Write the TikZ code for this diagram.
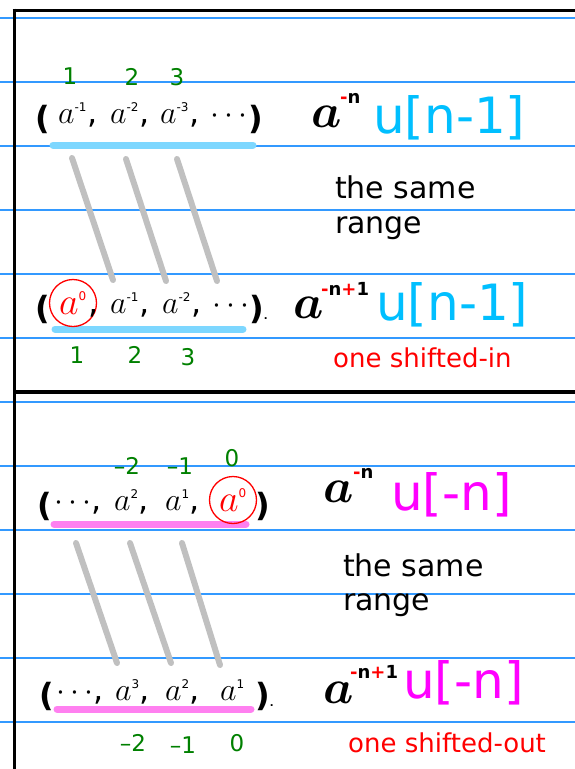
\RequirePackage{fix-cm}
\documentclass[tikz,border=0pt]{standalone}
\usepackage{fontspec}
\setmainfont{DejaVu Sans}
\usetikzlibrary{positioning}
\definecolor{ruleblue}{RGB}{51,153,255}
\definecolor{inkcyan}{RGB}{0,191,255}
\definecolor{inkmagenta}{RGB}{255,0,255}
\definecolor{inkgreen}{RGB}{0,128,0}
\definecolor{hlcyan}{RGB}{125,215,255}
\definecolor{hlpink}{RGB}{255,128,240}
\definecolor{strokegray}{RGB}{192,192,192}
\newcommand{\supx}[1]{^{\mbox{\fontsize{12}{13}\selectfont #1}}}

\begin{document}
\begin{tikzpicture}[x=1pt,y=-1pt]
\tikzset{
  ruleline/.style={draw=ruleblue,line width=1.2pt},
  frameline/.style={draw=black,line width=3pt},
  hlmark/.style={line width=7pt,line cap=round},
  slash/.style={draw=strokegray,line width=6pt,line cap=round},
  term/.style={anchor=base west,inner sep=0pt,font=\fontsize{32}{36}\selectfont},
  paren/.style={anchor=base west,inner sep=0pt,font=\fontsize{32}{36}\selectfont\bfseries},
  bigA/.style={anchor=base west,inner sep=0pt,font=\fontsize{48}{56}\selectfont\boldmath},
  expo/.style={anchor=base west,inner sep=0pt,font=\fontsize{18}{20}\selectfont\bfseries},
  seqname/.style={anchor=base west,inner sep=0pt,font=\fontsize{50}{56}\selectfont},
  note/.style={anchor=base west,inner sep=0pt,font=\fontsize{30}{35}\selectfont},
  shiftnote/.style={anchor=base west,inner sep=0pt,font=\fontsize{26}{30}\selectfont,text=red},
  idx/.style={inner sep=0pt,font=\fontsize{23}{25}\selectfont,text=inkgreen},
  zerocirc/.style={circle,draw=red,line width=1.3pt,minimum size=47pt,inner sep=0pt,text=red,font=\fontsize{38}{42}\selectfont}
}
\useasboundingbox (0,0) rectangle (575,769);
% ruled paper
\draw[ruleline] (0,18) -- (575,18);
\draw[ruleline] (0,82) -- (575,82);
\draw[ruleline] (0,146) -- (575,146);
\draw[ruleline] (0,210) -- (575,210);
\draw[ruleline] (0,274) -- (575,274);
\draw[ruleline] (0,338) -- (575,338);
\draw[ruleline] (0,402) -- (575,402);
\draw[ruleline] (0,466) -- (575,466);
\draw[ruleline] (0,530) -- (575,530);
\draw[ruleline] (0,594) -- (575,594);
\draw[ruleline] (0,658) -- (575,658);
\draw[ruleline] (0,722) -- (575,722);
% frame
\draw[frameline] (12.5,10) -- (575,10);
\draw[frameline] (14,8.5) -- (14,769);
\draw[frameline,line width=4pt] (14,392) -- (575,392);
% highlighters
\draw[hlmark,hlcyan] (53,145) -- (253,145);
\draw[hlmark,hlcyan] (55,329) -- (243,329);
\draw[hlmark,hlpink] (54,524) -- (246,524);
\draw[hlmark,hlpink] (57,709) -- (251,709);
% strokes between rows
\draw[slash] (72,158) -- (113,280);
\draw[slash] (126,159) -- (166,281);
\draw[slash] (177,159) -- (217,281);
\draw[slash] (76,543) -- (117,663);
\draw[slash] (130,543) -- (171,663);
\draw[slash] (182,543) -- (220,665);
% upper part
\node[idx] (n_i11) at (70,76) {1};
\node[idx] (n_i12) at (132,77) {2};
\node[idx] (n_i13) at (177,77) {3};
\node[paren] (n_lp1) at (35,129) {(};
\node[term] (n_t11) at (58,123) {$a\supx{-1}$,};
\node[term] (n_t12) at (110,123) {$a\supx{-2}$,};
\node[term] (n_t13) at (160,123) {$a\supx{-3}$,};
\node[term] (n_dots1) at (210,123) {$\cdots$};
\node[paren] (n_rp1) at (248,129) {)};
\node[bigA] (n_A1) at (311,127) {$a$};
\node[expo] (n_E1) at (340,103) {\textcolor{red}{-}n};
\node[seqname,text=inkcyan] (n_U1) at (373,133) {u[n-1]};
\node[note] (n_same1) at (335,198) {the same};
\node[note] (n_range1) at (335,233) {range};
\node[paren] (n_lp2) at (35,319) {(};
\node[zerocirc] (n_z2) at (73,303) {$a\supx{0}$};
\node[term] (n_c2) at (88,313) {,};
\node[term] (n_t22) at (110,313) {$a\supx{-1}$,};
\node[term] (n_t23) at (162,313) {$a\supx{-2}$,};
\node[term] (n_dots2) at (212,313) {$\cdots$};
\node[paren] (n_rp2) at (249,319) {)\fontsize{10}{10}\selectfont.};
\node[bigA] (n_A2) at (293,318) {$a$};
\node[expo] (n_E2) at (321,295) {\textcolor{red}{-}n\textcolor{red}{+}1};
\node[seqname,text=inkcyan] (n_U2) at (376,320) {u[n-1]};
\node[idx] (n_i21) at (77,355) {1};
\node[idx] (n_i22) at (135,355) {2};
\node[idx] (n_i23) at (188,357) {3};
\node[shiftnote] (n_shin) at (333,367) {one shifted-in};
% lower part
\node[idx] (n_i31) at (127,466) {–2};
\node[idx] (n_i32) at (180,466) {–1};
\node[idx] (n_i33) at (232,458) {0};
\node[paren] (n_lp3) at (37,516) {(};
\node[term] (n_dots3) at (54,510) {$\cdots$,};
\node[term] (n_t32) at (114,510) {$a\supx{2}$,};
\node[term] (n_t33) at (165,510) {$a\supx{1}$,};
\node[zerocirc] (n_z3) at (233,500) {$a\supx{0}$};
\node[paren] (n_rp3) at (255,516) {)};
\node[bigA] (n_A3) at (323,502) {$a$};
\node[expo] (n_E3) at (353,478) {\textcolor{red}{-}n};
\node[seqname,text=inkmagenta] (n_U3) at (391,510) {u[-n]};
\node[note] (n_same3) at (343,576) {the same};
\node[note] (n_range3) at (343,610) {range};
\node[paren] (n_lp4) at (39,706) {(};
\node[term] (n_dots4) at (56,700) {$\cdots$,};
\node[term] (n_t42) at (115,700) {$a\supx{3}$,};
\node[term] (n_t43) at (165,700) {$a\supx{2}$,};
\node[term] (n_t44) at (220,700) {$a\supx{1}$};
\node[paren] (n_rp4) at (255,706) {)\fontsize{10}{10}\selectfont.};
\node[bigA] (n_A4) at (323,703) {$a$};
\node[expo] (n_E4) at (350,678) {\textcolor{red}{-}n\textcolor{red}{+}1};
\node[seqname,text=inkmagenta] (n_U4) at (403,698) {u[-n]};
\node[idx] (n_i41) at (133,743) {–2};
\node[idx] (n_i42) at (183,745) {–1};
\node[idx] (n_i43) at (237,743) {0};
\node[shiftnote] (n_shout) at (348,752) {one shifted-out};
\end{tikzpicture}
\end{document}
